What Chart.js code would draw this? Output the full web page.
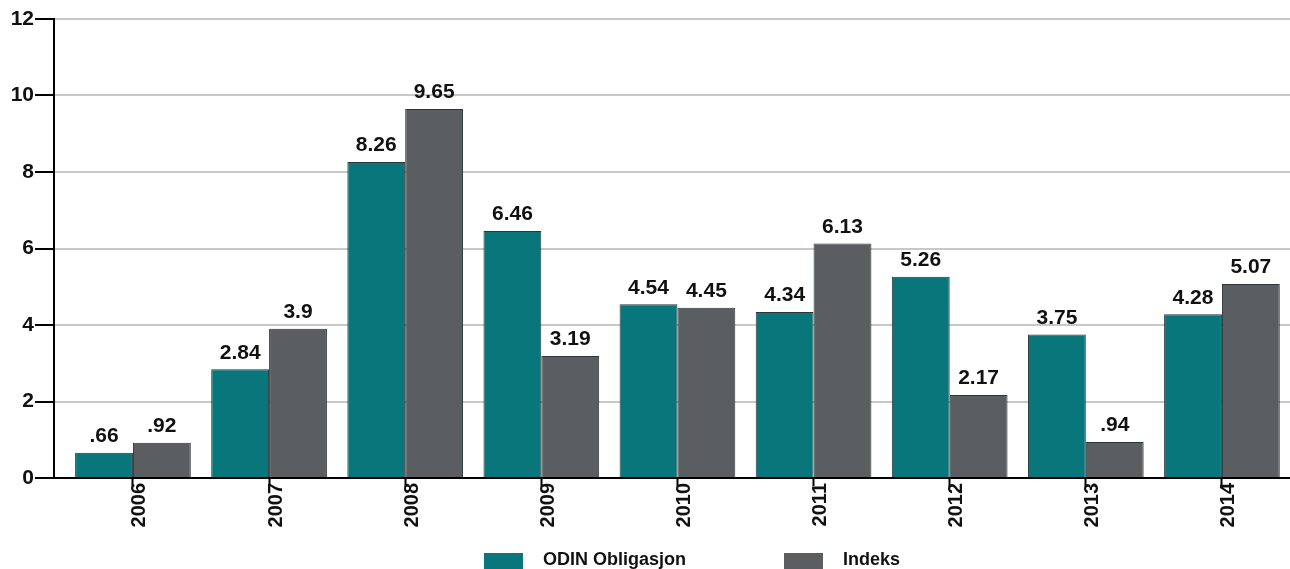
<!DOCTYPE html>
<html>
<head>
<meta charset="utf-8">
<script src="https://cdn.jsdelivr.net/npm/chart.js@4.4.1/dist/chart.umd.min.js"></script>
<style>
  html, body { margin: 0; padding: 0; background: #ffffff; }
  #wrap { width: 1290px; height: 569px; position: relative; }
</style>
</head>
<body>
<div id="wrap"><canvas id="chart" width="1290" height="569"></canvas></div>
<script>
// Annual returns (%) per year
const years = ['2006', '2007', '2008', '2009', '2010', '2011', '2012', '2013', '2014'];
const odinValues = [0.66, 2.84, 8.26, 6.46, 4.54, 4.34, 5.26, 3.75, 4.28];
const indeksValues = [0.92, 3.9, 9.65, 3.19, 4.45, 6.13, 2.17, 0.94, 5.07];
const seriesNames = ['ODIN Obligasjon', 'Indeks'];
const yTicks = [0, 2, 4, 6, 8, 10, 12];

const TEAL = '#08767a';
const GREY = '#5b5e61';
const FONT = '"Liberation Sans", Arial, sans-serif';

// value text as printed above the bars: ".66", "3.9", "8.26"
function fmt(v) {
  return String(v).replace(/^0\./, '.');
}

const valueLabels = {
  id: 'valueLabels',
  afterDatasetsDraw(chart) {
    const ctx = chart.ctx;
    ctx.save();
    ctx.font = 'bold 21px ' + FONT;
    ctx.fillStyle = '#111';
    ctx.textAlign = 'center';
    ctx.textBaseline = 'bottom';
    chart.data.datasets.forEach((ds, i) => {
      chart.getDatasetMeta(i).data.forEach((bar, j) => {
        ctx.fillText(fmt(ds.data[j].y), bar.x, bar.y - 6);
      });
    });
    ctx.restore();
  }
};

const bottomLegend = {
  id: 'bottomLegend',
  afterDraw(chart) {
    const ctx = chart.ctx;
    const starts = [484, 784];
    ctx.save();
    ctx.font = 'bold 18px ' + FONT;
    ctx.textBaseline = 'middle';
    ctx.textAlign = 'left';
    chart.data.datasets.forEach((ds, i) => {
      const x = starts[i];
      ctx.fillStyle = ds.backgroundColor;
      ctx.fillRect(x, 553, 39, 17);
      ctx.fillStyle = '#111';
      ctx.fillText(ds.label, x + 59, 560);
    });
    ctx.restore();
  }
};

const toPoints = arr => arr.map((v, i) => ({ x: i, y: v }));

new Chart(document.getElementById('chart'), {
  type: 'bar',
  data: {
    datasets: [
      {
        label: seriesNames[0],
        data: toPoints(odinValues),
        backgroundColor: TEAL,
        borderColor: '#2c3638',
        borderWidth: 1,
        categoryPercentage: 0.85,
        barPercentage: 1.0
      },
      {
        label: seriesNames[1],
        data: toPoints(indeksValues),
        backgroundColor: GREY,
        borderColor: '#2c3638',
        borderWidth: 1,
        categoryPercentage: 0.85,
        barPercentage: 1.0
      }
    ]
  },
  options: {
    responsive: false,
    animation: false,
    layout: { padding: { top: 19, left: 0, right: 0, bottom: 0 } },
    plugins: {
      legend: { display: false },
      tooltip: { enabled: false }
    },
    scales: {
      x: {
        type: 'linear',
        offset: false,
        min: -0.58,
        max: 8.5,
        afterBuildTicks(scale) {
          scale.ticks = years.map((y, i) => ({ value: i }));
        },
        afterFit(scale) { scale.height = 91; },
        grid: {
          offset: false,
          drawOnChartArea: false,
          drawTicks: true,
          tickLength: 8,
          tickColor: '#000',
          tickWidth: 2
        },
        border: { display: true, color: '#000', width: 2 },
        ticks: {
          autoSkip: false,
          minRotation: 90,
          maxRotation: 90,
          padding: -3,
          labelOffset: 7,
          color: '#111',
          font: { family: FONT, size: 20, weight: 'bold' },
          callback: (v) => years[v]
        }
      },
      y: {
        min: 0,
        max: 12,
        afterBuildTicks(scale) {
          scale.ticks = yTicks.map(v => ({ value: v }));
        },
        afterFit(scale) { scale.width = 54; },
        grid: {
          color: '#c8c8c8',
          lineWidth: 2,
          drawTicks: true,
          tickLength: 19,
          tickColor: '#000',
          tickWidth: 2
        },
        border: { display: true, color: '#000', width: 2 },
        ticks: {
          padding: 1,
          color: '#111',
          font: { family: FONT, size: 21, weight: 'bold' }
        }
      }
    }
  },
  plugins: [valueLabels, bottomLegend]
});
</script>
</body>
</html>
